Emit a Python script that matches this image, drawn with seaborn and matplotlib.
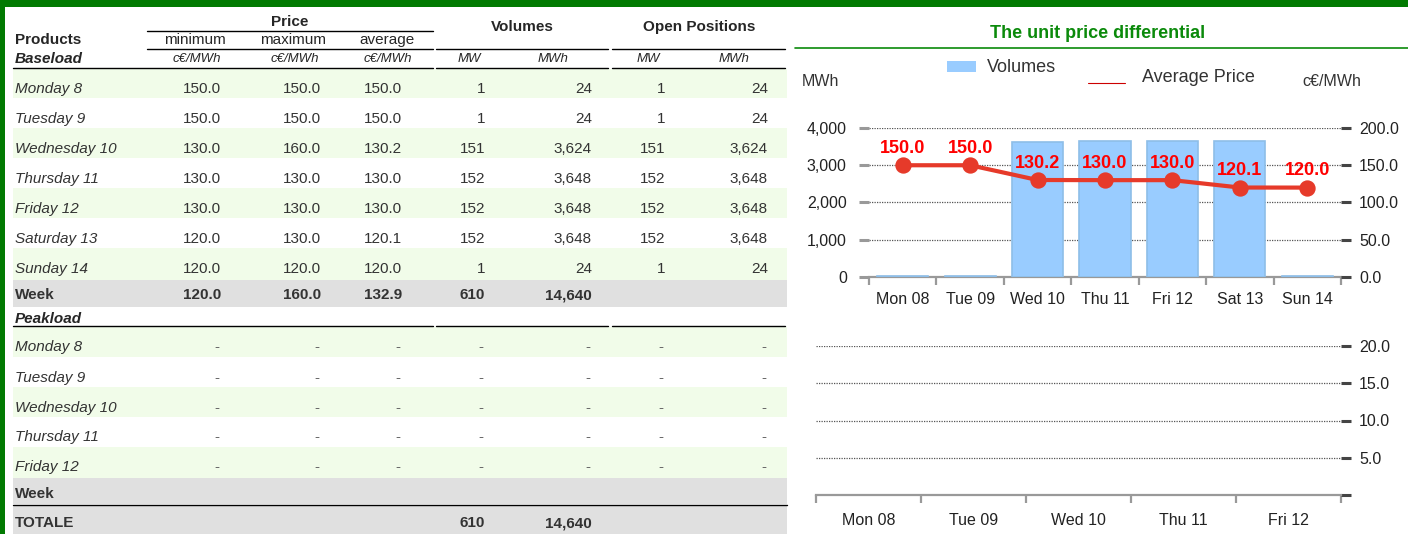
import numpy as np
import matplotlib.pyplot as plt
from matplotlib.patches import Rectangle
import seaborn as sns

# table data - baseload
base_days = ['Monday 8', 'Tuesday 9', 'Wednesday 10', 'Thursday 11',
             'Friday 12', 'Saturday 13', 'Sunday 14']
price_min = [150.0, 150.0, 130.0, 130.0, 130.0, 120.0, 120.0]
price_max = [150.0, 150.0, 160.0, 130.0, 130.0, 130.0, 120.0]
price_avg = [150.0, 150.0, 130.2, 130.0, 130.0, 120.1, 120.0]
vol_mw = [1, 1, 151, 152, 152, 152, 1]
vol_mwh = [24, 24, 3624, 3648, 3648, 3648, 24]
open_mw = [1, 1, 151, 152, 152, 152, 1]
open_mwh = [24, 24, 3624, 3648, 3648, 3648, 24]
week_price = [120.0, 160.0, 132.9]
week_vol = [610, 14640]
total_vol = [610, 14640]

# peakload (no data)
peak_days = ['Monday 8', 'Tuesday 9', 'Wednesday 10', 'Thursday 11', 'Friday 12']

# charts
chart_days = ['Mon 08', 'Tue 09', 'Wed 10', 'Thu 11', 'Fri 12', 'Sat 13', 'Sun 14']
peak_chart_days = ['Mon 08', 'Tue 09', 'Wed 10', 'Thu 11', 'Fri 12']
vol_ticks = [0, 1000, 2000, 3000, 4000]
price_ticks = [0, 50, 100, 150, 200]
peak_ticks = [0, 5, 10, 15, 20]

sns.set_style('white')
plt.rcParams['font.family'] = ['Liberation Sans', 'DejaVu Sans']

GREEN = '#017a01'
LGREEN = '#f1fce9'
GRAY = '#e0e0e0'
TXT = '#333333'

fig = plt.figure(figsize=(14.08, 5.34), dpi=100)
tab = fig.add_axes([0, 0, 1, 1])
tab.set_xlim(0, 1408)
tab.set_ylim(534, 0)
tab.axis('off')

# frame
tab.add_patch(Rectangle((0, 0), 1408, 7, color=GREEN, lw=0))
tab.add_patch(Rectangle((0, 0), 5, 534, color=GREEN, lw=0))

# row bands
for top, bot in [(69, 98), (128, 158), (188, 218), (248, 280),
                 (327, 357), (387, 417), (447, 478)]:
    tab.add_patch(Rectangle((13, top), 774, bot - top, color=LGREEN, lw=0))
for top, bot in [(280, 307), (478, 504), (506, 534)]:
    tab.add_patch(Rectangle((13, top), 774, bot - top, color=GRAY, lw=0))

# rules
segs = [(147, 433), (436, 608), (612, 785)]
tab.plot([147, 433], [31, 31], color='black', lw=1)
for y in [49, 68, 326]:
    for i, (a, b) in enumerate(segs):
        if y != 49 and i == 0:
            a = 13
        tab.plot([a, b], [y, y], color='black', lw=1)
tab.plot([13, 787], [504.5, 504.5], color='black', lw=1)

# headers
FS = 11
tab.text(290, 22, 'Price', ha='center', va='center', fontsize=FS, fontweight='bold')
tab.text(522, 27, 'Volumes', ha='center', va='center', fontsize=FS, fontweight='bold')
tab.text(699, 27, 'Open Positions', ha='center', va='center', fontsize=FS, fontweight='bold')
tab.text(15, 40, 'Products', ha='left', va='center', fontsize=FS, fontweight='bold')
for x, s in [(195, 'minimum'), (293, 'maximum'), (387, 'average')]:
    tab.text(x, 40, s, ha='center', va='center', fontsize=FS)
tab.text(15, 59, 'Baseload', ha='left', va='center', fontsize=FS,
         fontweight='bold', style='italic')
for x, s in [(197, 'c€/MWh'), (295, 'c€/MWh'), (388, 'c€/MWh'),
             (469, 'MW'), (553, 'MWh'), (648, 'MW'), (734, 'MWh')]:
    tab.text(x, 59, s, ha='center', va='center', fontsize=9.5, style='italic')

col_right = [221, 321, 402, 485, 592, 665, 768]
base_y = [89, 119, 149, 179, 209, 239, 269]
for i, y in enumerate(base_y):
    tab.text(15, y, base_days[i], ha='left', va='center', fontsize=FS,
             style='italic', color=TXT)
    vals = [f'{price_min[i]:.1f}', f'{price_max[i]:.1f}', f'{price_avg[i]:.1f}',
            f'{vol_mw[i]:,}', f'{vol_mwh[i]:,}', f'{open_mw[i]:,}', f'{open_mwh[i]:,}']
    for x, v in zip(col_right, vals):
        tab.text(x, y, v, ha='right', va='center', fontsize=FS, color=TXT)

tab.text(15, 295, 'Week', ha='left', va='center', fontsize=FS, fontweight='bold', color=TXT)
for x, v in zip(col_right, [f'{p:.1f}' for p in week_price] + [f'{v:,}' for v in week_vol]):
    tab.text(x, 295, v, ha='right', va='center', fontsize=FS, fontweight='bold', color=TXT)

tab.text(15, 319, 'Peakload', ha='left', va='center', fontsize=FS,
         fontweight='bold', style='italic')
peak_y = [347, 378, 408, 437, 467]
for i, y in enumerate(peak_y):
    tab.text(15, y, peak_days[i], ha='left', va='center', fontsize=FS,
             style='italic', color=TXT)
    for x in col_right:
        tab.text(x - 2, y, '-', ha='right', va='center', fontsize=FS, color='#666666')
tab.text(15, 494, 'Week', ha='left', va='center', fontsize=FS, fontweight='bold', color=TXT)
tab.text(15, 523, 'TOTALE', ha='left', va='center', fontsize=FS, fontweight='bold', color=TXT)
for x, v in zip(col_right[3:5], total_vol):
    tab.text(x, 523, f'{v:,}', ha='right', va='center', fontsize=FS,
             fontweight='bold', color=TXT)

# right panel header
tab.text(1098, 33, 'The unit price differential', ha='center', va='center',
         fontsize=13, fontweight='bold', color='#0b8a0b')
tab.plot([795, 1408], [48, 48], color='#0b8a0b', lw=1.2)

# legend and axis units
tab.add_patch(Rectangle((947, 61), 29, 11, color='#99ccff', lw=0))
tab.text(987, 67, 'Volumes', ha='left', va='center', fontsize=13, color=TXT)
tab.plot([1088, 1125], [83, 83], color='#cc0000', lw=0.8)
tab.text(1142, 78, 'Average Price', ha='left', va='center', fontsize=13, color=TXT)
tab.text(802, 81, 'MWh', ha='left', va='center', fontsize=11.5, color=TXT)
tab.text(1302, 81, 'c€/MWh', ha='left', va='center', fontsize=11.5, color=TXT)

# chart 1: baseload volumes + average price
W, H = 1408, 534
ax = fig.add_axes([869 / W, (H - 277) / H, 472 / W, 149 / H])
sns.barplot(x=chart_days, y=vol_mwh, ax=ax, color='#99ccff', saturation=1,
            width=0.76, edgecolor='#8ebee8', linewidth=1.2, zorder=3)
ax.set_ylim(0, 4000)
ax.set_xlim(-0.5, len(chart_days) - 0.5)
ax.set_yticks(vol_ticks, [f'{v:,}' for v in vol_ticks])
ax.set_axisbelow(True)
ax.yaxis.grid(True, linestyle=(0, (1, 1)), color='#555555', linewidth=0.9)
ax.xaxis.grid(False)
for s in ['top', 'left', 'right']:
    ax.spines[s].set_visible(False)
ax.spines['bottom'].set_color('#999999')
ax.spines['bottom'].set_linewidth(1.6)
ax.spines['bottom'].set_zorder(1)
ax.set_xticks(np.arange(-0.5, len(chart_days)), minor=True)
ax.tick_params(axis='x', which='major', bottom=False, length=0, labelsize=11.5,
               pad=11, labelcolor='#222222')
ax.tick_params(axis='x', which='minor', bottom=True, length=6, width=1.6, color='#999999')
ax.tick_params(axis='y', left=True, length=7, width=2.2, color='#999999',
               labelsize=11.5, pad=9, labelcolor='#222222')
ax.set_xlabel('')
ax.set_ylabel('')

ax2 = ax.twinx()
sns.pointplot(x=chart_days, y=price_avg, ax=ax2, color='#e63a2a', markers='o',
              markersize=9.5, linewidth=3)
ax2.set_ylim(0, 200)
ax2.set_xlim(-0.5, len(chart_days) - 0.5)
ax2.set_yticks(price_ticks, [f'{v:.1f}' for v in price_ticks])
ax2.tick_params(axis='y', right=True, length=7, width=2.2, color='#444444',
                labelsize=11.5, pad=6, labelcolor='#222222')
for s in ax2.spines.values():
    s.set_visible(False)
ax2.grid(False)
ax2.set_ylabel('')
for i, v in enumerate(price_avg):
    ax2.annotate(f'{v:.1f}', (i, v), xytext=(0, 6), textcoords='offset points',
                 ha='center', va='bottom', fontsize=13, fontweight='bold', color='#ff0000')

# chart 2: peakload (empty)
ax3 = fig.add_axes([816 / W, (H - 495) / H, 525 / W, 149 / H])
ax3.set_xlim(-0.5, len(peak_chart_days) - 0.5)
ax3.set_ylim(0, 20)
ax3.set_xticks(range(len(peak_chart_days)), peak_chart_days)
ax3.set_xticks(np.arange(-0.5, len(peak_chart_days)), minor=True)
ax3.yaxis.tick_right()
ax3.set_yticks(peak_ticks, [''] + [f'{v:.1f}' for v in peak_ticks[1:]])
ax3.yaxis.grid(True, linestyle=(0, (1, 1)), color='#555555', linewidth=0.9)
ax3.xaxis.grid(False)
for s in ['top', 'left', 'right']:
    ax3.spines[s].set_visible(False)
ax3.spines['bottom'].set_color('#999999')
ax3.spines['bottom'].set_linewidth(1.6)
ax3.tick_params(axis='x', which='major', bottom=False, length=0, labelsize=11.5,
                pad=13, labelcolor='#222222')
ax3.tick_params(axis='x', which='minor', bottom=True, length=6, width=1.6, color='#999999')
ax3.tick_params(axis='y', right=True, left=False, length=7, width=2.2, color='#444444',
                labelsize=11.5, pad=6, labelcolor='#222222')

fig.savefig('out.png', dpi=100)
